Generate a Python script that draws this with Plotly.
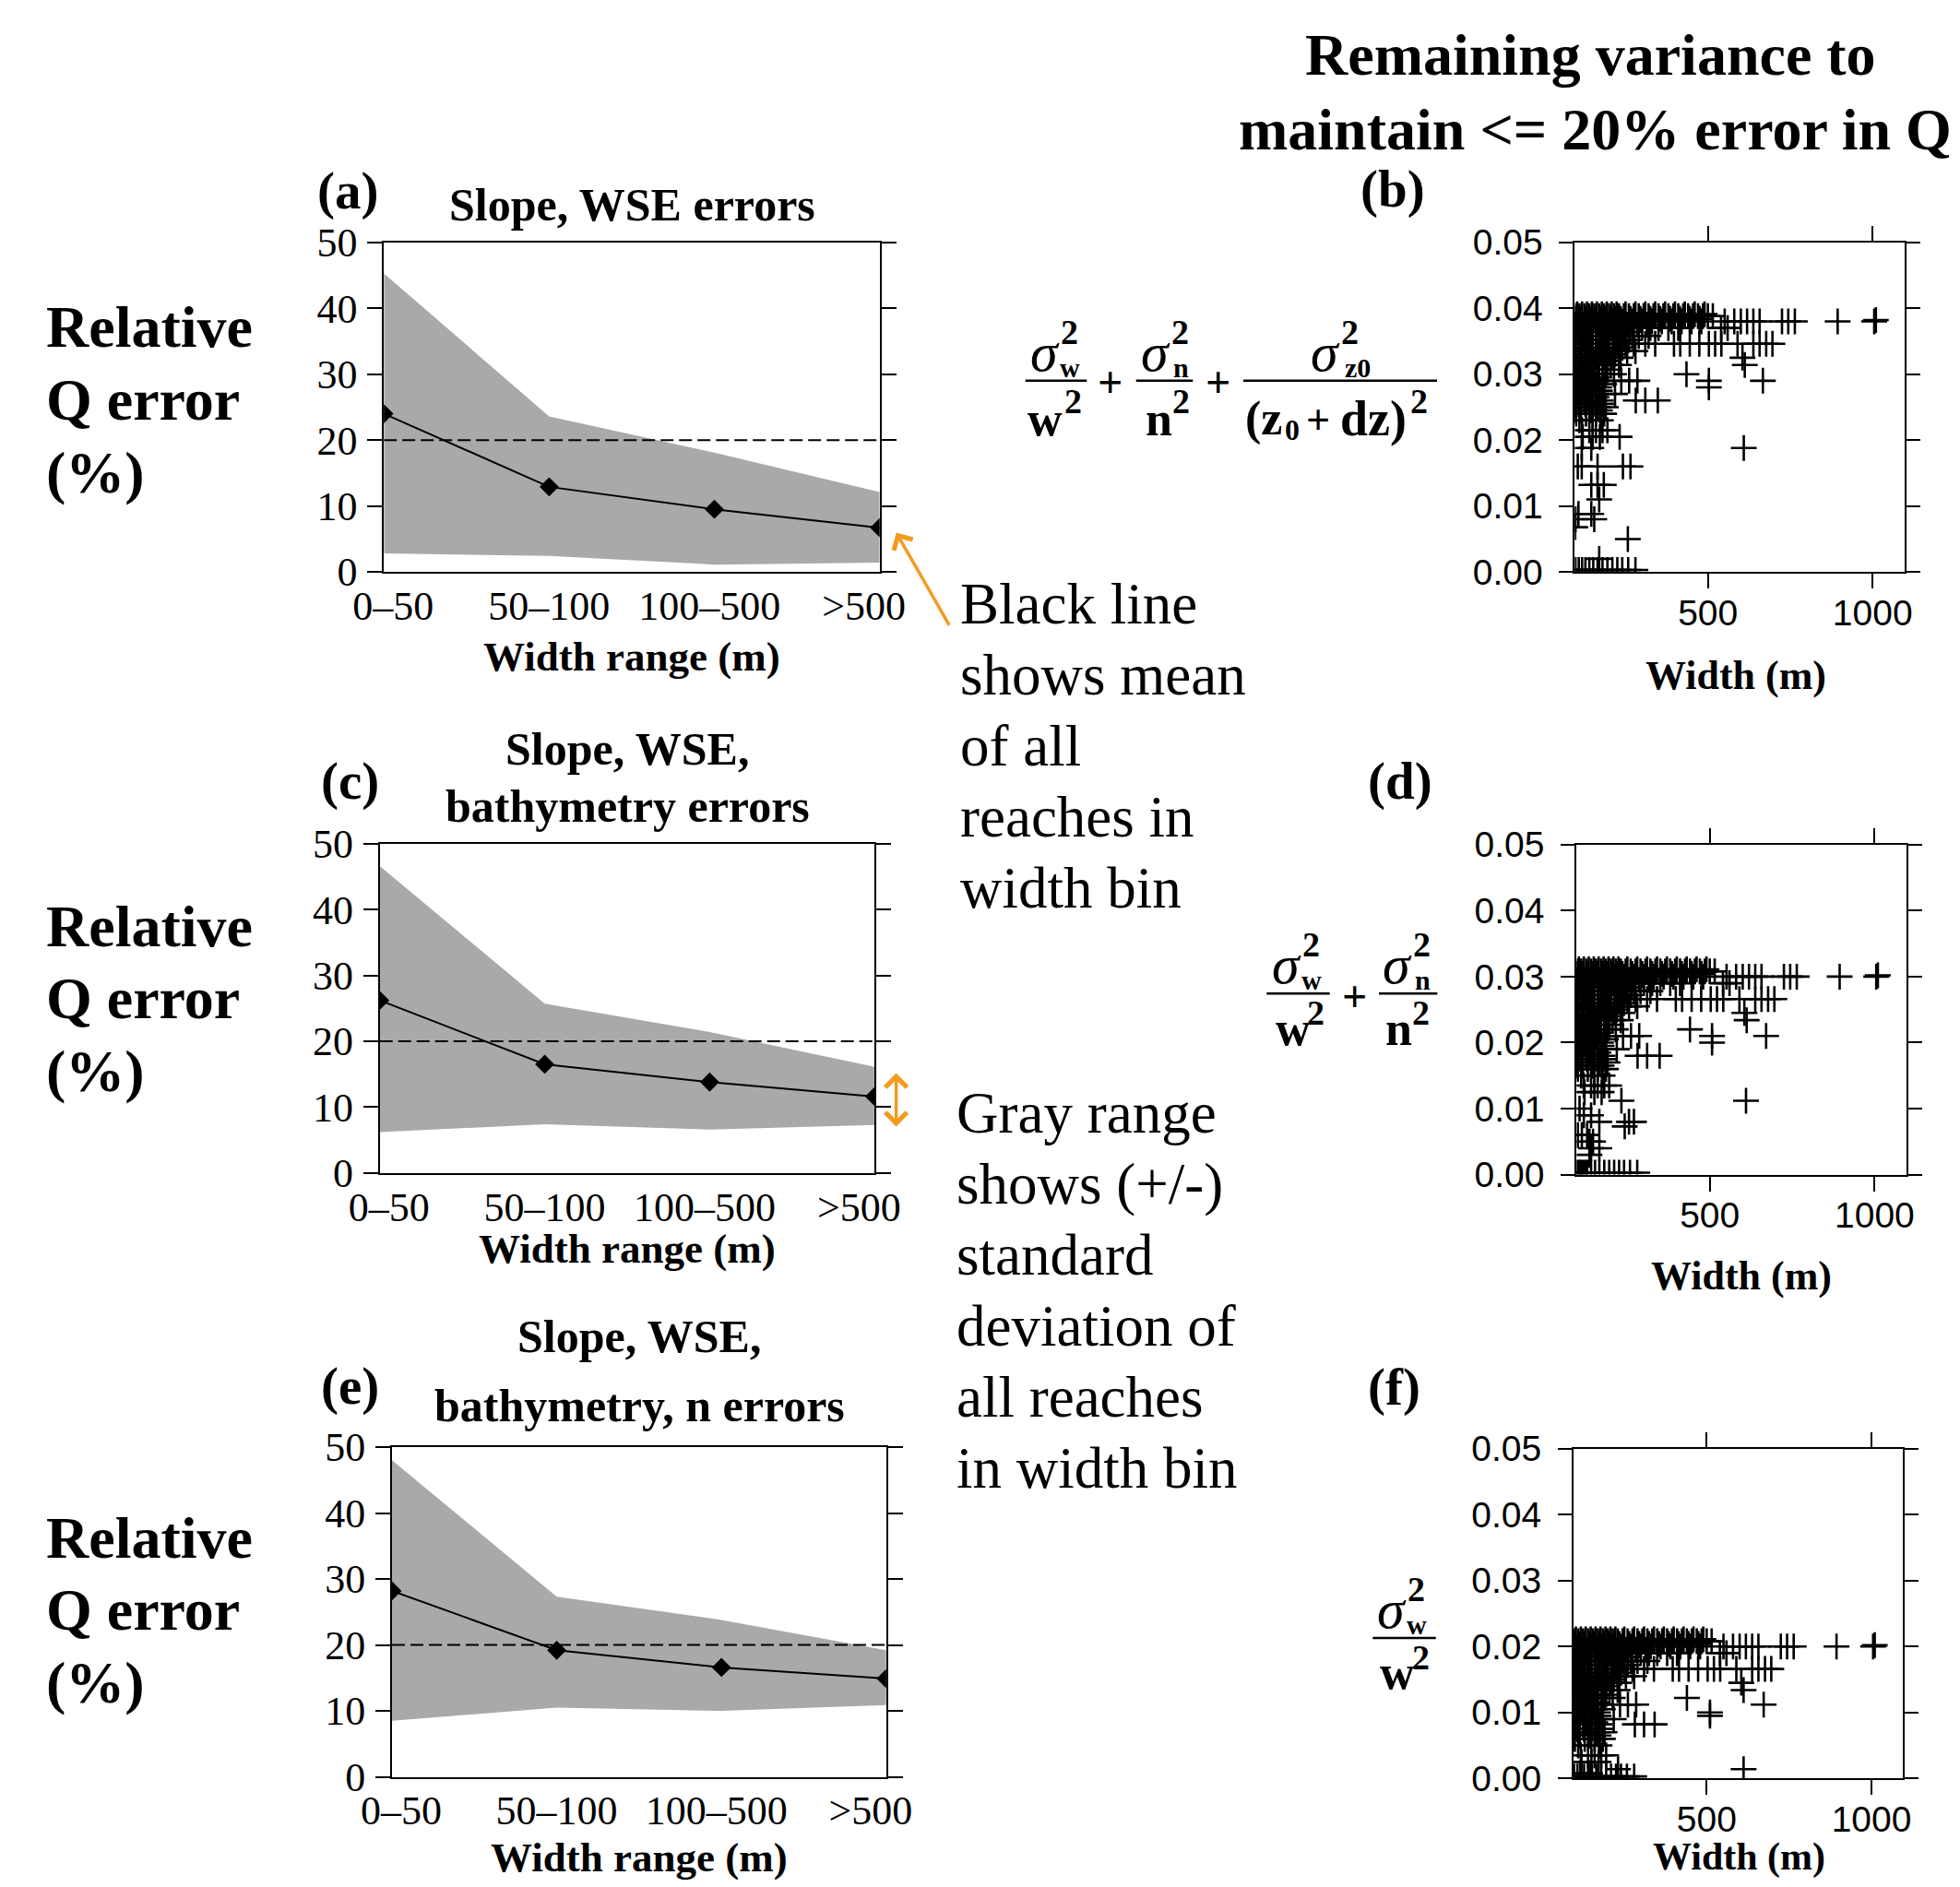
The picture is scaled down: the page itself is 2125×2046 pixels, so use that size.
import plotly.graph_objects as go

FIG_W, FIG_H = 2125, 2046
PAGE_OFFSET = 8  # browser body margin
SERIF = "Liberation Serif"
SANS = "Liberation Sans"
ORANGE = "#F39B1E"
GRAY = "#a9a9a9"

# ---------------- data: line panels (a), (c), (e) ----------------
width_bins = ["0–50", "50–100", "100–500", ">500"]
bin_pos = [0, 1, 2, 3]

mean_a = [24.0, 12.9, 9.5, 6.7]
upper_a = [45.3, 23.6, 18.1, 12.1]
lower_a = [2.8, 2.4, 1.1, 1.4]

mean_c = [26.2, 16.5, 13.8, 11.6]
upper_c = [46.6, 25.7, 21.4, 16.1]
lower_c = [6.2, 7.4, 6.6, 7.3]

mean_e = [28.2, 19.2, 16.6, 14.9]
upper_e = [48.0, 27.3, 23.8, 19.2]
lower_e = [8.5, 10.5, 10.0, 10.9]

error_threshold = 20
q_ticks = [0, 10, 20, 30, 40, 50]

# ---------------- data: scatter panels (b), (d), (f) ----------------
# rows of (remaining variance, [widths of reaches at that value])
rows_b = [
    (0.0391, [103, 118, 133, 148, 163, 178, 193, 208, 223, 250, 280, 310, 340, 370, 400, 430, 460, 490]),
    (0.0388, [100, 110, 125, 140, 155, 170, 185, 200, 215, 230, 245, 260, 275, 290, 305, 320, 335, 350, 365, 380, 395, 410, 425, 440, 455, 470, 485, 500, 515]),
    (0.0384, [97, 112, 128, 143, 158, 173, 190, 205, 220, 235, 265, 295, 325, 355, 385, 415, 445, 475]),
    (0.0380, [105, 130, 150, 180, 210, 240, 270, 300, 330, 360, 390, 420, 450, 480, 551, 580, 600, 619, 638, 657, 725, 744, 764, 894, 1005]),
    (0.0382, [1010]),
    (0.0375, [98, 108, 120, 140, 165, 190, 200, 225, 255, 285, 315]),
    (0.0370, [100, 115, 135, 160, 185, 205, 230, 250, 275, 300, 325, 350, 380, 410, 540, 560]),
    (0.0364, [98, 108, 125, 140, 150, 175, 195, 215, 240, 262]),
    (0.0358, [100, 120, 145, 170, 195, 220, 245, 270, 290, 320]),
    (0.0352, [98, 108, 125, 138, 160, 182, 210, 235, 260]),
    (0.0346, [98, 110, 130, 150, 175, 200, 225, 250, 275, 310, 340, 397, 416, 445, 474, 503, 522, 541, 590, 638, 657, 677, 696]),
    (0.0340, [98, 115, 140, 162, 188, 215, 240]),
    (0.0335, [100, 125, 150, 175, 200, 230, 255, 280]),
    (0.0330, [98, 110, 130, 145, 168, 192, 218]),
    (0.0325, [100, 118, 140, 160, 185, 210, 235, 605]),
    (0.0320, [98, 108, 128, 148, 170, 196]),
    (0.0314, [98, 115, 135, 155, 180, 205, 230, 612]),
    (0.0307, [98, 108, 125, 145, 168, 195]),
    (0.0300, [100, 120, 140, 165, 190, 215, 435]),
    (0.0295, [98, 108, 128, 148, 170]),
    (0.0290, [98, 115, 135, 155, 180, 237, 261, 286, 503, 667]),
    (0.0285, [98, 108, 128, 160, 185]),
    (0.0280, [100, 120, 145, 170, 503]),
    (0.0275, [98, 108, 125, 150, 172]),
    (0.0270, [98, 115, 135, 160, 185, 218]),
    (0.0265, [98, 110, 138, 162]),
    (0.0260, [100, 125, 150, 175, 281, 310, 348]),
    (0.0255, [98, 108, 128, 152, 178]),
    (0.0250, [98, 115, 140, 165, 190]),
    (0.0245, [98, 112, 145, 172]),
    (0.0240, [100, 130, 160, 185]),
    (0.0230, [110, 150, 175]),
    (0.0215, [118, 140, 160, 180, 195]),
    (0.0205, [120, 150, 172, 232]),
    (0.0188, [117, 146, 609]),
    (0.0160, [105, 117, 165, 242, 265]),
    (0.0132, [146, 165, 184]),
    (0.0110, [170]),
    (0.0088, [107, 146]),
    (0.0080, [98, 155]),
    (0.0068, [97]),
    (0.0050, [257]),
    (0.0020, [170]),
    (0.0003, [98, 108, 118, 128, 140, 152, 165, 180, 195, 210, 225, 240, 258, 280]),
]

rows_d = [
    (0.0311, [103, 118, 133, 148, 163, 178, 193, 208, 223, 250, 280, 310, 340, 370, 400, 430, 460, 490]),
    (0.0308, [100, 110, 125, 140, 155, 170, 185, 200, 215, 230, 245, 260, 275, 290, 305, 320, 335, 350, 365, 380, 395, 410, 425, 440, 455, 470, 485, 500, 515]),
    (0.0304, [97, 112, 128, 143, 158, 173, 190, 205, 220, 235, 265, 295, 325, 355, 385, 415, 445, 475]),
    (0.0300, [105, 130, 150, 180, 210, 240, 270, 300, 330, 360, 390, 420, 450, 480, 551, 580, 600, 619, 638, 657, 725, 744, 764, 894, 1005]),
    (0.0302, [1010]),
    (0.0295, [98, 108, 120, 140, 165, 190, 200, 225, 255, 285, 315]),
    (0.0290, [100, 115, 135, 160, 185, 205, 230, 250, 275, 300, 325, 350, 380, 410, 540, 560]),
    (0.0284, [98, 108, 125, 140, 150, 175, 195, 215, 240, 262]),
    (0.0278, [100, 120, 145, 170, 195, 220, 245, 270, 290, 320]),
    (0.0272, [98, 108, 125, 138, 160, 182, 210, 235, 260]),
    (0.0266, [98, 110, 130, 150, 175, 200, 225, 250, 275, 310, 340, 397, 416, 445, 474, 503, 522, 541, 590, 638, 657, 677, 696]),
    (0.0260, [98, 115, 140, 162, 188, 215, 240]),
    (0.0255, [100, 125, 150, 175, 200, 230, 255, 280]),
    (0.0250, [98, 110, 130, 145, 168, 192, 218]),
    (0.0245, [100, 118, 140, 160, 185, 210, 235, 605]),
    (0.0240, [98, 108, 128, 148, 170, 196]),
    (0.0234, [98, 115, 135, 155, 180, 205, 230, 612]),
    (0.0227, [98, 108, 125, 145, 168, 195]),
    (0.0220, [100, 120, 140, 165, 190, 215, 440]),
    (0.0215, [98, 108, 128, 148, 170]),
    (0.0210, [98, 115, 135, 155, 180, 237, 261, 286, 507, 671]),
    (0.0205, [98, 108, 128, 160, 185]),
    (0.0200, [100, 120, 145, 170, 507]),
    (0.0195, [98, 108, 125, 150, 172]),
    (0.0190, [98, 115, 135, 160, 185, 218]),
    (0.0185, [98, 110, 138, 162]),
    (0.0180, [100, 125, 150, 175, 281, 310, 348]),
    (0.0175, [98, 108, 128, 152, 178]),
    (0.0170, [98, 115, 140, 165, 190]),
    (0.0165, [98, 112, 145, 172]),
    (0.0160, [100, 130, 160, 185]),
    (0.0150, [110, 150, 175]),
    (0.0135, [118, 140, 160, 180, 195]),
    (0.0125, [120, 150, 172]),
    (0.0112, [232, 610]),
    (0.0100, [105]),
    (0.0090, [118, 140]),
    (0.0080, [165, 255, 270]),
    (0.0073, [242]),
    (0.0060, [100, 112, 128]),
    (0.0050, [135, 146]),
    (0.0040, [140, 165]),
    (0.0030, [135]),
    (0.0003, [98, 104, 108, 112, 118, 124, 128, 140, 152, 165, 180, 195, 210, 225, 240, 258, 280]),
]

rows_f = [
    (0.0211, [103, 118, 133, 148, 163, 178, 193, 208, 223, 250, 280, 310, 340, 370, 400, 430, 460, 490]),
    (0.0208, [100, 110, 125, 140, 155, 170, 185, 200, 215, 230, 245, 260, 275, 290, 305, 320, 335, 350, 365, 380, 395, 410, 425, 440, 455, 470, 485, 500, 515]),
    (0.0204, [97, 112, 128, 143, 158, 173, 190, 205, 220, 235, 265, 295, 325, 355, 385, 415, 445, 475]),
    (0.0200, [105, 130, 150, 180, 210, 240, 270, 300, 330, 360, 390, 420, 450, 480, 551, 580, 600, 619, 638, 657, 725, 744, 764, 894, 1005]),
    (0.0202, [1010]),
    (0.0195, [98, 108, 120, 140, 165, 190, 200, 225, 255, 285, 315]),
    (0.0190, [100, 115, 135, 160, 185, 205, 230, 250, 275, 300, 325, 350, 380, 410, 540, 560]),
    (0.0184, [98, 108, 125, 140, 150, 175, 195, 215, 240, 262]),
    (0.0178, [100, 120, 145, 170, 195, 220, 245, 270, 290, 320]),
    (0.0172, [98, 108, 125, 138, 160, 182, 210, 235, 260]),
    (0.0166, [98, 110, 130, 150, 175, 200, 225, 250, 275, 310, 340, 397, 416, 445, 474, 503, 522, 541, 590, 638, 657, 677, 696]),
    (0.0160, [98, 115, 140, 162, 188, 215, 240]),
    (0.0155, [100, 125, 150, 175, 200, 230, 255, 280]),
    (0.0150, [98, 110, 130, 145, 168, 192, 218]),
    (0.0145, [100, 118, 140, 160, 185, 210, 235, 605]),
    (0.0140, [98, 108, 128, 148, 170, 196]),
    (0.0134, [98, 115, 135, 155, 180, 205, 230, 612]),
    (0.0127, [98, 108, 125, 145, 168, 195]),
    (0.0122, [100, 120, 140, 165, 190, 215, 440]),
    (0.0115, [98, 108, 128, 148, 170]),
    (0.0112, [98, 115, 135, 155, 180, 237, 261, 286, 673]),
    (0.0105, [98, 108, 128, 160, 185]),
    (0.0100, [100, 120, 145, 170, 510]),
    (0.0095, [98, 108, 125, 150, 172, 510]),
    (0.0090, [98, 115, 135, 160, 185, 218]),
    (0.0085, [98, 110, 138, 162]),
    (0.0082, [100, 125, 150, 175, 282, 310, 342]),
    (0.0075, [98, 108, 128, 152, 178]),
    (0.0070, [98, 115, 140, 165, 190]),
    (0.0065, [98, 112, 145, 172]),
    (0.0060, [100, 130, 160, 185]),
    (0.0050, [110, 150, 175]),
    (0.0035, [118, 140, 160, 180, 195]),
    (0.0025, [120, 150, 172]),
    (0.0014, [231, 612]),
    (0.0008, [117, 146]),
    (0.0003, [98, 108, 118, 128, 140, 152, 165, 180, 195, 210, 225, 240, 258, 280]),
]

var_ticks = [0.00, 0.01, 0.02, 0.03, 0.04, 0.05]
width_ticks = [500, 1000]
width_range = [96, 1096]

# ---------------- text ----------------
heading_lines = ["Remaining variance to", "maintain &lt;= 20% error in Q"]
ylabel_lines = ["Relative", "Q error", "(%)"]
note_mean_lines = ["Black line", "shows mean", "of all", "reaches in", "width bin"]
note_sd_lines = ["Gray range", "shows (+/-)", "standard", "deviation of", "all reaches", "in width bin"]
xtitle_line = "Width range (m)"
xtitle_scatter = "Width (m)"

# tick-label anchor positions (first/last labels nudged inward, as in the source figure)
bin_label_pos = [0.056, 1.0, 1.97, 2.905]


def px(x):
    return (x - PAGE_OFFSET) / FIG_W


def py(y):
    return 1 - (y - PAGE_OFFSET) / FIG_H


def flatten(rows):
    xs, ys = [], []
    for yv, xlist in rows:
        for xv in xlist:
            xs.append(xv)
            ys.append(yv)
    return xs, ys


fig = go.Figure()
layout_axes = {}
shapes = []
annotations = []


def ann(text, x, y, size, bold=False, italic=False, family=SERIF, xanchor="center", yanchor="middle"):
    t = text
    if italic:
        t = "<i>" + t + "</i>"
    if bold:
        t = "<b>" + t + "</b>"
    annotations.append(dict(text=t, x=px(x), y=py(y), xref="paper", yref="paper",
                            showarrow=False, xanchor=xanchor, yanchor=yanchor,
                            font=dict(family=family, size=size, color="black")))


line_panels = [
    dict(n="", xd=(416.2, 953.7), yd=(262.9, 620.0), mean=mean_a, up=upper_a, lo=lower_a),
    dict(n="2", xd=(411.7, 948.3), yd=(914.7, 1271.8), mean=mean_c, up=upper_c, lo=lower_c),
    dict(n="3", xd=(425.0, 960.8), yd=(1569.0, 1926.6), mean=mean_e, up=upper_e, lo=lower_e),
]

for p in line_panels:
    xa, ya = "x" + p["n"], "y" + p["n"]
    fig.add_trace(go.Scatter(x=bin_pos, y=p["lo"], mode="lines", line=dict(width=0, color=GRAY),
                             xaxis=xa, yaxis=ya, hoverinfo="skip"))
    fig.add_trace(go.Scatter(x=bin_pos, y=p["up"], mode="lines", line=dict(width=0, color=GRAY),
                             fill="tonexty", fillcolor=GRAY, xaxis=xa, yaxis=ya, hoverinfo="skip"))
    fig.add_trace(go.Scatter(x=bin_pos, y=p["mean"], mode="lines+markers",
                             line=dict(color="black", width=2),
                             marker=dict(symbol="diamond", size=16, color="black"),
                             xaxis=xa, yaxis=ya))
    layout_axes["xaxis" + p["n"]] = dict(
        domain=[px(p["xd"][0]), px(p["xd"][1])], anchor=ya, range=[0, 3],
        tickvals=bin_label_pos, ticktext=width_bins, ticks="", showline=True, linecolor="black",
        linewidth=2, mirror=True, showgrid=False, zeroline=False, ticklabelstandoff=-3,
        automargin=False, tickfont=dict(family=SERIF, size=44, color="black"))
    layout_axes["yaxis" + p["n"]] = dict(
        domain=[py(p["yd"][1]), py(p["yd"][0])], anchor=xa, range=[0, 50],
        tickvals=q_ticks, ticks="outside", ticklen=16, tickwidth=2, tickcolor="black",
        showline=True, linecolor="black", linewidth=2, mirror="ticks", showgrid=False,
        zeroline=False, ticklabelstandoff=2, automargin=False,
        tickfont=dict(family=SERIF, size=44, color="black"))
    shapes.append(dict(type="line", xref=xa + " domain", yref=ya, x0=0, x1=1,
                       y0=error_threshold, y1=error_threshold,
                       line=dict(color="black", width=2, dash="14px,6px")))

scatter_panels = [
    dict(n="4", xd=(1707.4, 2064.5), yd=(262.7, 620.2), rows=rows_b),
    dict(n="5", xd=(1709.3, 2066.7), yd=(915.8, 1273.6), rows=rows_d),
    dict(n="6", xd=(1706.0, 2063.3), yd=(1570.7, 1928.3), rows=rows_f),
]

for p in scatter_panels:
    xa, ya = "x" + p["n"], "y" + p["n"]
    xs, ys = flatten(p["rows"])
    fig.add_trace(go.Scatter(x=xs, y=ys, mode="markers",
                             marker=dict(symbol="cross-thin", size=20, color="black",
                                         line=dict(color="black", width=2.6)),
                             xaxis=xa, yaxis=ya))
    layout_axes["xaxis" + p["n"]] = dict(
        domain=[px(p["xd"][0]), px(p["xd"][1])], anchor=ya, range=width_range,
        tickvals=width_ticks, ticks="outside", ticklen=16, tickwidth=2, tickcolor="black",
        showline=True, linecolor="black", linewidth=2, mirror="ticks", showgrid=False,
        zeroline=False, ticklabelstandoff=-7, automargin=False,
        tickfont=dict(family=SANS, size=39, color="black"))
    layout_axes["yaxis" + p["n"]] = dict(
        domain=[py(p["yd"][1]), py(p["yd"][0])], anchor=xa, range=[0, 0.05],
        tickvals=var_ticks, tickformat=".2f", ticks="outside", ticklen=15, tickwidth=2,
        tickcolor="black", showline=True, linecolor="black", linewidth=2, mirror="ticks",
        showgrid=False, zeroline=False, ticklabelstandoff=10, automargin=False,
        tickfont=dict(family=SANS, size=39, color="black"))

# ---------------- annotations ----------------
for lab, x, y in [("(a)", 377, 207), ("(c)", 379, 847), ("(e)", 379, 1503),
                  ("(b)", 1510, 205), ("(d)", 1518, 847), ("(f)", 1511, 1504)]:
    ann(lab, x, y, 57, bold=True)

ann("Slope, WSE errors", 685, 222, 50, bold=True)
ann("Slope, WSE,", 680, 812, 50, bold=True)
ann("bathymetry errors", 680, 874, 50, bold=True)
ann("Slope, WSE,", 693, 1449, 50, bold=True)
ann("bathymetry, n errors", 693, 1524, 50, bold=True)

ann(xtitle_line, 685, 712, 45, bold=True)
ann(xtitle_line, 680, 1354, 45, bold=True)
ann(xtitle_line, 693, 2014, 45, bold=True)
ann(xtitle_scatter, 1882, 732, 44, bold=True)
ann(xtitle_scatter, 1888, 1383, 44, bold=True)
ann(xtitle_scatter, 1885, 2013, 42, bold=True)

ann(heading_lines[0], 1724, 60, 64, bold=True)
ann(heading_lines[1], 1729, 141, 64, bold=True)

for y0 in (355, 1004, 1667):
    for i, t in enumerate(ylabel_lines):
        ann(t, 48, y0 + i * 78.5, 64, bold=True, xanchor="left")

for i, t in enumerate(note_mean_lines):
    ann(t, 1039, 655 + i * 77, 63, xanchor="left")
for i, t in enumerate(note_sd_lines):
    ann(t, 1035, 1207 + i * 77, 63, xanchor="left")


def frac_bar(x0, x1, y):
    shapes.append(dict(type="line", xref="paper", yref="paper", x0=px(x0), x1=px(x1),
                       y0=py(y), y1=py(y), line=dict(color="black", width=2.5)))


def sigma_term(xs, ys, sub, dx_sub=0):
    ann("σ", xs, ys, 60, italic=True)
    ann("2", xs + 26, ys - 22, 38, bold=True)
    ann(sub, xs + 27 + dx_sub, ys + 16, 30, bold=True)


# (b) equation
frac_bar(1111.7, 1178.3, 412.7)
sigma_term(1133, 382, "w")
ann("w", 1133, 454, 52, bold=True)
ann("2", 1163, 435, 38, bold=True)
ann("+", 1203, 414, 48, bold=True)
frac_bar(1231.7, 1293.3, 412.7)
sigma_term(1253, 382, "n")
ann("n", 1256, 454, 52, bold=True)
ann("2", 1280, 435, 38, bold=True)
ann("+", 1320, 414, 48, bold=True)
frac_bar(1348, 1558, 412.7)
sigma_term(1437, 382, "z0", dx_sub=8)
ann("(z", 1370, 454, 52, bold=True)
ann("0", 1401, 466, 32, bold=True)
ann("+", 1429, 455, 46, bold=True)
ann("dz)", 1489, 454, 54, bold=True)
ann("2", 1538, 435, 38, bold=True)

# (d) equation
frac_bar(1373.3, 1441.7, 1077.3)
sigma_term(1395, 1046, "w")
ann("w", 1401.7, 1115, 52, bold=True)
ann("2", 1426.7, 1098, 38, bold=True)
ann("+", 1468.3, 1080, 48, bold=True)
frac_bar(1495, 1558.3, 1077.3)
sigma_term(1515, 1046, "n")
ann("n", 1516.7, 1115, 52, bold=True)
ann("2", 1540, 1098, 38, bold=True)

# (f) equation
frac_bar(1488.3, 1556.7, 1776)
sigma_term(1509, 1745, "w")
ann("w", 1515, 1813, 52, bold=True)
ann("2", 1540, 1797, 38, bold=True)

# orange arrows
annotations.append(dict(text="", x=px(971.7), y=py(577.5), xref="paper", yref="paper",
                        showarrow=True, ax=58.3, ay=101.8, arrowhead=4, arrowsize=1.3,
                        arrowwidth=3.5, arrowcolor=ORANGE))
annotations.append(dict(text="", x=px(971.6), y=py(1163.5), xref="paper", yref="paper",
                        showarrow=True, ax=0, ay=59.5, arrowhead=4, startarrowhead=4,
                        arrowside="end+start", arrowsize=1.3, startarrowsize=1.3,
                        arrowwidth=3.5, arrowcolor=ORANGE))

fig.update_layout(
    template="none",
    width=FIG_W, height=FIG_H,
    margin=dict(l=0, r=0, t=0, b=0, pad=0, autoexpand=False),
    paper_bgcolor="white", plot_bgcolor="white", showlegend=False,
    font=dict(family=SERIF, color="black"),
    shapes=shapes, annotations=annotations, **layout_axes)

fig.write_html("out.html")
